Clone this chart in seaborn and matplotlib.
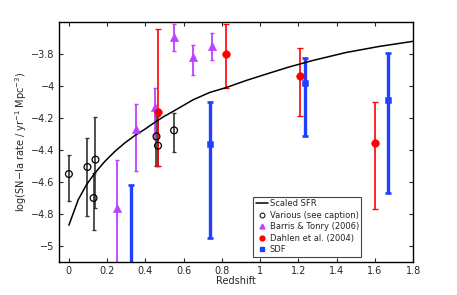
import matplotlib
matplotlib.use("Agg")
import matplotlib.pyplot as plt
import numpy as np
import pandas as pd
import seaborn as sns
from matplotlib.lines import Line2D

# scaled SFR curve
sfr_z = [0, 0.049, 0.092, 0.136, 0.188, 0.24, 0.292, 0.344, 0.397, 0.449, 0.497,
         0.544, 0.649, 0.736, 0.823, 0.927, 1.032, 1.15, 1.275, 1.449, 1.623, 1.8]
sfr_y = [-4.87, -4.71, -4.617, -4.544, -4.471, -4.409, -4.356, -4.31, -4.27, -4.227, -4.19,
         -4.159, -4.086, -4.04, -4.009, -3.965, -3.925, -3.881, -3.84, -3.79, -3.752, -3.72]

# various (see caption)
var_z = [0.0, 0.097, 0.129, 0.139, 0.458, 0.466, 0.55]
var_y = [-4.55, -4.506, -4.70, -4.46, -4.315, -4.373, -4.277]
var_lo = [-4.72, -4.815, -4.90, -4.76, -4.50, -4.50, -4.41]
var_hi = [-4.43, -4.325, -4.545, -4.196, -4.19, -4.19, -4.17]

# Barris & Tonry (2006)
bt_z = [0.25, 0.35, 0.449, 0.548, 0.649, 0.748]
bt_y = [-4.76, -4.27, -4.13, -3.69, -3.82, -3.75]
bt_lo = [-5.3, -4.53, -4.33, -3.78, -3.93, -3.84]
bt_hi = [-4.465, -4.11, -4.01, -3.61, -3.74, -3.67]

# Dahlen et al. (2004)
da_z = [0.464, 0.823, 1.21, 1.60]
da_y = [-4.16, -3.80, -3.94, -4.356]
da_lo = [-4.50, -4.01, -4.19, -4.77]
da_hi = [-3.64, -3.61, -3.76, -4.10]

# SDF
sdf_z = [0.327, 0.74, 1.233, 1.668]
sdf_y = [-5.3, -4.36, -3.98, -4.09]
sdf_lo = [-6.0, -4.95, -4.315, -4.67]
sdf_hi = [-4.62, -4.10, -3.825, -3.79]

PURPLE = "#bf40ff"
RED = "#ff0000"
BLUE = "#2040ff"
GREY = "#333333"

sns.set_style("ticks")
plt.rcParams["font.family"] = ["DejaVu Sans"]
plt.rcParams["font.size"] = 7

fig = plt.figure(figsize=(4.57, 2.95), dpi=100)
ax = fig.add_axes([0.129, 0.112, 0.775, 0.813])


def bars(z, y, lo, hi, color, lw, cap):
    y = np.array(y)
    err = [y - np.array(lo), np.array(hi) - y]
    ax.errorbar(z, y, yerr=err, fmt="none", ecolor=color, elinewidth=lw,
                capsize=cap, capthick=lw * 0.8, zorder=2)


bars(var_z, var_y, var_lo, var_hi, GREY, 1.2, 1.5)
bars(bt_z, bt_y, bt_lo, bt_hi, PURPLE, 1.3, 1.5)
bars(da_z, da_y, da_lo, da_hi, RED, 1.2, 2.5)
bars(sdf_z, sdf_y, sdf_lo, sdf_hi, BLUE, 2.4, 2.5)

sfr = pd.DataFrame({"z": sfr_z, "y": sfr_y})
sns.lineplot(data=sfr, x="z", y="y", color="black", lw=1.1, ax=ax, zorder=3)

sns.scatterplot(x=var_z, y=var_y, marker="o", s=24, facecolor="none",
                edgecolor="black", linewidth=0.9, ax=ax, zorder=4)
sns.scatterplot(x=bt_z, y=bt_y, marker="^", s=34, color=PURPLE,
                edgecolor=PURPLE, ax=ax, zorder=4)
sns.scatterplot(x=da_z, y=da_y, marker="o", s=30, color=RED,
                edgecolor=RED, ax=ax, zorder=4)
sns.scatterplot(x=sdf_z, y=sdf_y, marker="s", s=22, color=BLUE,
                edgecolor=BLUE, ax=ax, zorder=4)

ax.set_xlim(-0.052, 1.8)
ax.set_ylim(-5.1, -3.6)
ax.set_xticks(np.arange(0, 1.81, 0.2))
ax.set_xticklabels(["0", "0.2", "0.4", "0.6", "0.8", "1", "1.2", "1.4", "1.6", "1.8"])
ax.set_yticks([-5, -4.8, -4.6, -4.4, -4.2, -4, -3.8])
ax.set_yticklabels(["\u22125", "\u22124.8", "\u22124.6", "\u22124.4", "\u22124.2", "\u22124", "\u22123.8"])
ax.tick_params(direction="in", top=True, right=True, length=3, width=0.8,
               labelsize=7, pad=3)
for s in ax.spines.values():
    s.set_linewidth(1.0)
    s.set_color("black")
ax.set_xlabel("Redshift", fontsize=7, labelpad=0)
ax.set_ylabel("log(SN\u2212Ia rate / yr$^{-1}$ Mpc$^{-3}$)", fontsize=7, labelpad=2)

handles = [
    Line2D([], [], color="black", lw=1.1),
    Line2D([], [], marker="o", ls="none", mfc="none", mec="black", ms=3.5, mew=0.7),
    Line2D([], [], marker="^", ls="none", color=PURPLE, ms=3.5),
    Line2D([], [], marker="o", ls="none", color=RED, ms=3.5),
    Line2D([], [], marker="s", ls="none", color=BLUE, ms=2.8),
]
labels = ["Scaled SFR", "Various (see caption)", "Barris & Tonry (2006)",
          "Dahlen et al. (2004)", "SDF"]
leg = ax.legend(handles, labels, loc="lower left", bbox_to_anchor=(0.548, 0.022),
                fontsize=6, frameon=True, fancybox=False, framealpha=1,
                handlelength=1.5, handletextpad=0.2, borderpad=0.3,
                labelspacing=0.3, borderaxespad=0)
leg.get_frame().set_edgecolor("#444444")
leg.get_frame().set_linewidth(0.8)

fig.savefig("out.png", dpi=100)
